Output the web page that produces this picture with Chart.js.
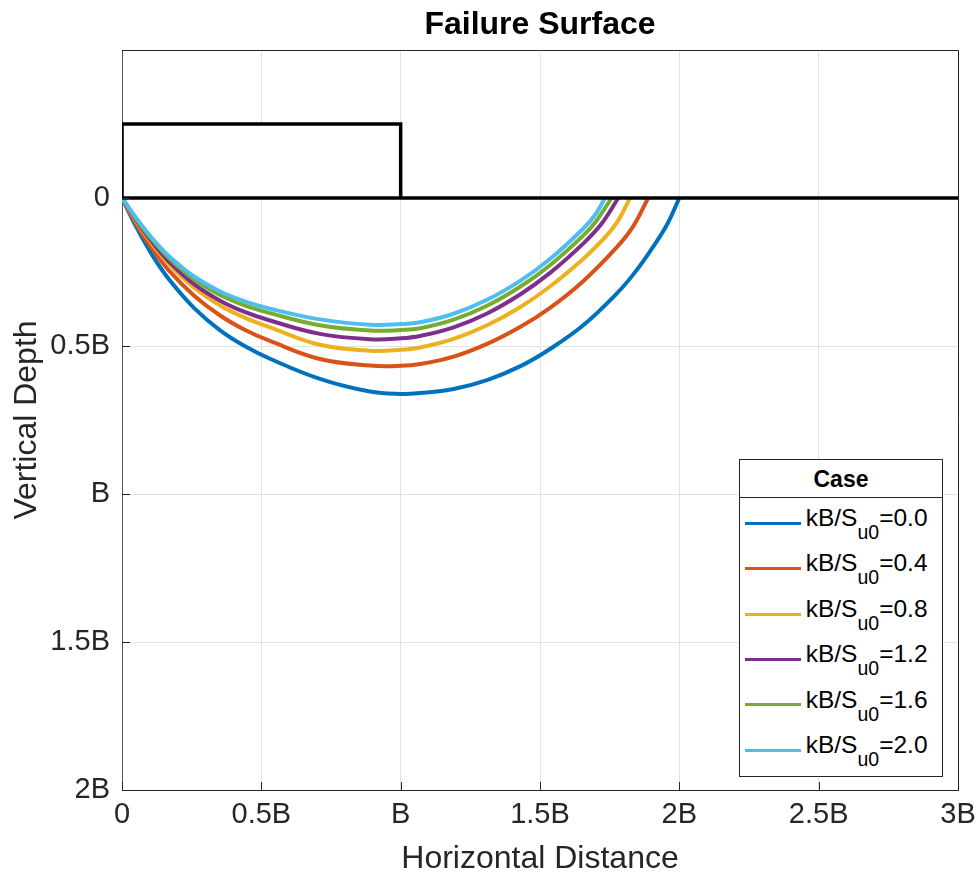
<!DOCTYPE html>
<html lang="en">
<head>
    <meta charset="UTF-8">
    <title>Failure Surface</title>
    <script src="https://cdn.jsdelivr.net/npm/chart.js"></script>
    <style>
        body {
            margin: 0;
            background: white;
            font-family: "Liberation Sans", Arial, sans-serif;
        }

        .wrap {
            position: relative;
            width: 978px;
            height: 878px;
        }

        /* legend box drawn as html so the subscript stays real text */
        #legend {
            position: absolute;
            left: 739px;
            top: 459px;
            width: 204px;
            height: 318px;
            box-sizing: border-box;
            border: 1px solid #262626;
            background: white;
            color: #000;
        }

        #legend .lg-title {
            height: 37px;
            line-height: 38px;
            border-bottom: 1px solid #262626;
            text-align: center;
            font-weight: bold;
            font-size: 23px;
        }

        #legend .row {
            position: absolute;
            left: 0;
            width: 100%;
            height: 45.4px;
        }

        #legend .swatch {
            position: absolute;
            left: 5px;
            top: 21.2px;
            width: 56px;
            height: 3px;
        }

        #legend .txt {
            position: absolute;
            left: 65.7px;
            top: 5.4px;
            font-size: 24.5px;
            line-height: 24.5px;
            white-space: nowrap;
        }

        #legend sub {
            font-size: 19.5px;
            line-height: 1;
            vertical-align: -13px;
        }
    </style>
</head>
<body>

<div class="wrap">
    <canvas id="chart"></canvas>
    <div id="legend"><div class="lg-title">Case</div></div>
</div>

<script>
    // ticks (in units of B)
    const xTickValues = [0, 0.5, 1, 1.5, 2, 2.5, 3];
    const xTickLabels = ['0', '0.5B', 'B', '1.5B', '2B', '2.5B', '3B'];
    const yTickValues = [0, 0.5, 1, 1.5, 2];
    const yTickLabels = ['0', '0.5B', 'B', '1.5B', '2B'];

    // footing and ground surface
    const footingX = [0, 0, 1, 1];
    const footingD = [0, -0.25, -0.25, 0];
    const groundX = [0, 3];
    const groundD = [0, 0];

    const caseLabels = ['0.0', '0.4', '0.8', '1.2', '1.6', '2.0'];

    // failure surfaces, horizontal distance / depth
    const xCase00 = [0, 0.053, 0.112, 0.172, 0.26, 0.352, 0.44, 0.531, 0.71, 0.89, 1.0, 1.07, 1.19, 1.31, 1.43, 1.536, 1.655, 1.775, 1.835, 1.895, 1.954, 2.0];
    const dCase00 = [0, 0.101, 0.198, 0.279, 0.373, 0.447, 0.50, 0.543, 0.611, 0.654, 0.662, 0.659, 0.645, 0.615, 0.568, 0.51, 0.43, 0.323, 0.258, 0.18, 0.093, 0];

    const xCase04 = [0, 0.053, 0.112, 0.172, 0.26, 0.352, 0.44, 0.531, 0.71, 0.89, 1.0, 1.07, 1.19, 1.31, 1.43, 1.536, 1.655, 1.775, 1.835, 1.888];
    const dCase04 = [0, 0.091, 0.177, 0.249, 0.331, 0.397, 0.445, 0.483, 0.544, 0.566, 0.567, 0.561, 0.536, 0.493, 0.435, 0.371, 0.281, 0.167, 0.095, 0];

    const xCase08 = [0, 0.053, 0.112, 0.172, 0.26, 0.352, 0.44, 0.531, 0.71, 0.89, 1.0, 1.07, 1.19, 1.31, 1.43, 1.536, 1.655, 1.72, 1.775, 1.823];
    const dCase08 = [0, 0.082, 0.16, 0.227, 0.304, 0.363, 0.404, 0.437, 0.496, 0.516, 0.513, 0.505, 0.476, 0.43, 0.368, 0.299, 0.206, 0.146, 0.084, 0];

    const xCase12 = [0, 0.053, 0.112, 0.172, 0.26, 0.352, 0.44, 0.531, 0.71, 0.89, 1.0, 1.07, 1.19, 1.31, 1.43, 1.536, 1.655, 1.72, 1.781];
    const dCase12 = [0, 0.077, 0.153, 0.218, 0.292, 0.347, 0.385, 0.414, 0.459, 0.477, 0.474, 0.466, 0.437, 0.39, 0.325, 0.253, 0.154, 0.088, 0];

    const xCase16 = [0, 0.053, 0.112, 0.172, 0.26, 0.352, 0.44, 0.531, 0.71, 0.89, 1.0, 1.07, 1.19, 1.31, 1.43, 1.536, 1.655, 1.70, 1.757];
    const dCase16 = [0, 0.073, 0.145, 0.206, 0.276, 0.328, 0.363, 0.389, 0.43, 0.448, 0.446, 0.44, 0.411, 0.364, 0.299, 0.227, 0.127, 0.08, 0];

    const xCase20 = [0, 0.053, 0.112, 0.172, 0.26, 0.352, 0.44, 0.531, 0.71, 0.89, 1.0, 1.07, 1.19, 1.31, 1.43, 1.536, 1.655, 1.70, 1.733];
    const dCase20 = [0, 0.07, 0.14, 0.199, 0.266, 0.316, 0.349, 0.374, 0.41, 0.428, 0.426, 0.42, 0.391, 0.344, 0.279, 0.206, 0.104, 0.054, 0];

    const caseX = [xCase00, xCase04, xCase08, xCase12, xCase16, xCase20];
    const caseD = [dCase00, dCase04, dCase08, dCase12, dCase16, dCase20];
    const caseColors = ['#0072BD', '#D95319', '#EDB120', '#7E2F8E', '#77AC30', '#4DBEEE'];

    const FONT = '"Liberation Sans", Arial, sans-serif';
    const INK = '#262626';

    function toPoints(xs, ds) {
        return xs.map((x, i) => ({ x: x, y: ds[i] }));
    }

    const datasets = [
        {
            label: 'ground',
            data: toPoints(groundX, groundD),
            borderColor: '#000',
            borderWidth: 3.5,
            tension: 0,
            order: 0
        },
        {
            label: 'footing',
            data: toPoints(footingX, footingD),
            borderColor: '#000',
            borderWidth: 3.5,
            tension: 0,
            backgroundColor: '#fff',
            fill: { value: 0 },
            order: 0
        }
    ];

    caseLabels.forEach((lab, i) => {
        datasets.push({
            label: 'kB/Su0=' + lab,
            data: toPoints(caseX[i], caseD[i]),
            borderColor: caseColors[i],
            borderWidth: 4,
            tension: 0.4,
            order: 10 - i
        });
    });

    // box top/right, inward ticks and the title
    const framePlugin = {
        id: 'frame',
        afterDatasetsDraw(chart) {
            const { ctx, chartArea: a, scales } = chart;
            ctx.save();
            ctx.strokeStyle = INK;
            ctx.lineWidth = 1;
            ctx.beginPath();
            ctx.moveTo(a.left, a.top + 0.5);
            ctx.lineTo(a.right + 0.5, a.top + 0.5);
            ctx.lineTo(a.right + 0.5, a.bottom);
            xTickValues.forEach(v => {
                const px = Math.round(scales.x.getPixelForValue(v)) + 0.5;
                ctx.moveTo(px, a.bottom);
                ctx.lineTo(px, a.bottom - 8);
            });
            yTickValues.forEach(v => {
                const py = Math.round(scales.y.getPixelForValue(v)) + 0.5;
                ctx.moveTo(a.left, py);
                ctx.lineTo(a.left + 8, py);
            });
            ctx.stroke();

            ctx.fillStyle = '#000';
            ctx.font = 'bold 32px ' + FONT;
            ctx.textAlign = 'center';
            ctx.textBaseline = 'middle';
            ctx.fillText('Failure Surface', (a.left + a.right) / 2, 25);
            ctx.restore();
        }
    };

    new Chart(document.getElementById('chart'), {
        type: 'scatter',
        data: { datasets: datasets },
        options: {
            responsive: true,
            maintainAspectRatio: false,
            animation: false,
            showLine: true,
            elements: {
                point: { radius: 0, hoverRadius: 0 }
            },
            layout: { padding: { top: 50, right: 20, left: 0, bottom: 0 } },
            plugins: {
                legend: { display: false },
                tooltip: { enabled: false },
                title: { display: false }
            },
            scales: {
                x: {
                    type: 'linear',
                    min: 0,
                    max: 3,
                    afterBuildTicks: axis => { axis.ticks = xTickValues.map(v => ({ value: v })); },
                    afterFit: axis => {
                        axis.height = 88;
                        axis.paddingLeft = 0;
                        axis.paddingRight = 0;
                    },
                    ticks: {
                        padding: 8,
                        color: INK,
                        font: { family: FONT, size: 29 },
                        maxRotation: 0,
                        callback: (v) => xTickLabels[xTickValues.indexOf(v)]
                    },
                    grid: { color: '#e3e3e3', drawTicks: false },
                    border: { color: INK, width: 1 },
                    title: {
                        display: true,
                        text: 'Horizontal Distance',
                        color: INK,
                        font: { family: FONT, size: 32 },
                        padding: { top: 0, bottom: 0 }
                    }
                },
                y: {
                    type: 'linear',
                    reverse: true,
                    min: -0.5,
                    max: 2,
                    afterBuildTicks: axis => { axis.ticks = yTickValues.map(v => ({ value: v })); },
                    afterFit: axis => {
                        axis.width = 122;
                        axis.paddingTop = 0;
                        axis.paddingBottom = 0;
                    },
                    ticks: {
                        padding: 12,
                        color: INK,
                        font: { family: FONT, size: 29 },
                        callback: (v) => yTickLabels[yTickValues.indexOf(v)]
                    },
                    grid: { color: '#e3e3e3', drawTicks: false },
                    border: { color: '#555', width: 1 },
                    title: {
                        display: true,
                        text: 'Vertical Depth',
                        color: INK,
                        font: { family: FONT, size: 32 },
                        padding: { top: 8, bottom: 0 }
                    }
                }
            }
        },
        plugins: [framePlugin]
    });

    // legend rows
    const legend = document.getElementById('legend');
    caseLabels.forEach((lab, i) => {
        const row = document.createElement('div');
        row.className = 'row';
        row.style.top = (40.6 + i * 45.4) + 'px';
        row.innerHTML = '<span class="swatch" style="background:' + caseColors[i] + '"></span>' +
            '<span class="txt">kB/S<sub>u0</sub>=' + lab + '</span>';
        legend.appendChild(row);
    });
</script>

</body>
</html>
